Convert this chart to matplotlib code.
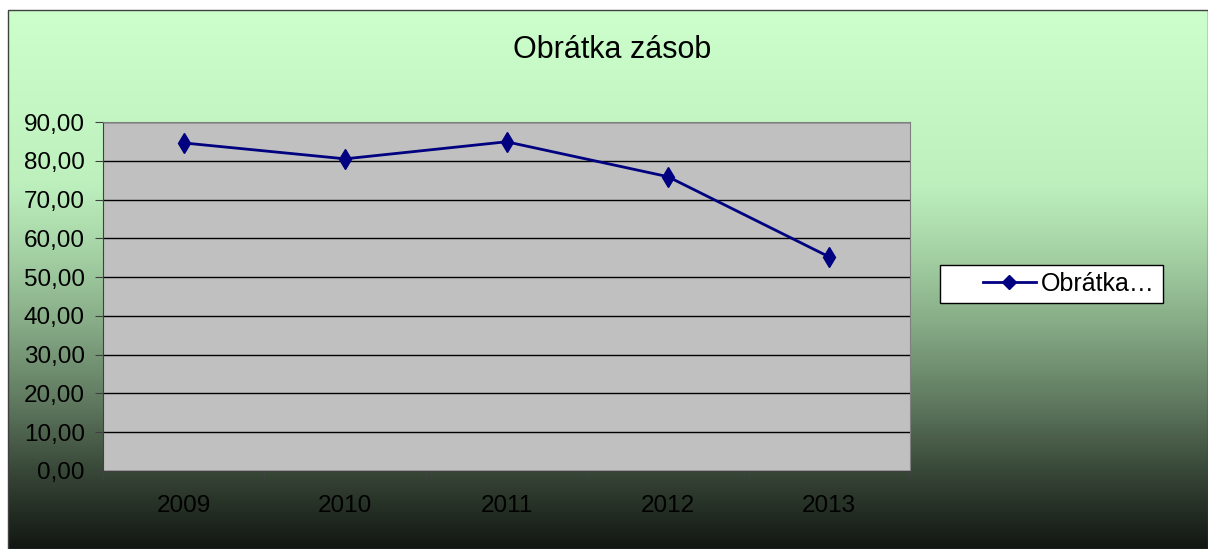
import matplotlib.pyplot as plt
import numpy as np
from matplotlib.colors import LinearSegmentedColormap

plt.rcParams['font.family'] = ['Liberation Sans', 'DejaVu Sans']

years = ['2009', '2010', '2011', '2012', '2013']
obratka = [84.6, 80.5, 84.9, 75.9, 55.2]
title = 'Obrátka zásob'
legend_label = 'Obrátka…'

W, H = 1208, 549
fig = plt.figure(figsize=(W / 100, H / 100), dpi=100)
fig.patch.set_facecolor('white')

# pozadí s gradientem (světle zelená -> téměř černá)
bg = fig.add_axes([8 / W, 0, 1 - 8 / W, 539 / H])
stops = [(0.0, (204, 255, 204)), (0.32, (190, 240, 190)), (0.45, (165, 210, 165)),
         (0.58, (135, 172, 135)), (0.72, (98, 124, 98)), (0.86, (55, 70, 55)),
         (1.0, (18, 22, 18))]
cmap = LinearSegmentedColormap.from_list('bg', [(p, tuple(c / 255 for c in rgb)) for p, rgb in stops])
bg.imshow(np.linspace(0, 1, 256).reshape(-1, 1), aspect='auto', cmap=cmap,
          extent=[0, 1, 0, 1], origin='upper')
bg.set_axis_off()
fig.add_artist(plt.Rectangle((8 / W, 0), 1 - 8 / W, 539 / H, transform=fig.transFigure,
                             fill=False, edgecolor='#404040', lw=1.0))

ax = fig.add_axes([103 / W, 78 / H, 807 / W, 349 / H])
ax.set_facecolor('#c0c0c0')
x = np.arange(len(years))
ax.plot(x, obratka, color='#000080', lw=2, marker='d', markersize=10,
        markerfacecolor='#000080', markeredgecolor='#000080', label=legend_label)

ax.set_xlim(-0.5, len(years) - 0.5)
ax.set_ylim(0, 90)
yt = np.arange(0, 91, 10)
ax.set_yticks(yt)
ax.set_yticklabels([f'{v:.2f}'.replace('.', ',') for v in yt], fontsize=17.5)
ax.set_xticks(np.arange(-0.5, len(years), 1))
ax.set_xticklabels([])
ax.set_xticks(x, minor=True)
ax.set_xticklabels(years, minor=True, fontsize=17.5)
ax.tick_params(axis='x', which='minor', length=0, pad=17)
ax.tick_params(axis='x', which='major', length=6, direction='out', color='#404040')
ax.tick_params(axis='y', length=6, direction='out', color='#404040', pad=7)
ax.grid(axis='y', color='black', lw=1)
ax.set_axisbelow(True)
for side in ['top', 'right']:
    ax.spines[side].set_color('#808080')
ax.spines['left'].set_color('#404040')
ax.spines['bottom'].set_color('#404040')

fig.text(612 / W, 1 - 50 / H, title, ha='center', va='center', fontsize=22)

# rámeček legendy jako v Excelu (široký levý okraj)
ax.add_patch(plt.Rectangle((940 / W, 1 - 303 / H), 223 / W, 38 / H, transform=fig.transFigure,
                           facecolor='white', edgecolor='black', lw=1, zorder=4, clip_on=False))
leg = ax.legend(loc='center left', bbox_to_anchor=(983 / W, 1 - 284 / H),
                bbox_transform=fig.transFigure, fontsize=18, frameon=False,
                handlelength=2.1, handletextpad=0.2, borderpad=0, borderaxespad=0)
leg.set_zorder(6)
h = leg.legend_handles[0]
h.set_marker('D')
h.set_markersize(7.5)

fig.savefig('out.png', dpi=100)
